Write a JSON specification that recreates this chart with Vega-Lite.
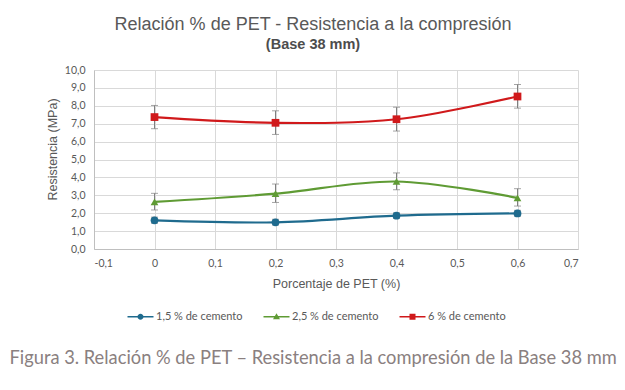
{
  "$schema": "https://vega.github.io/schema/vega-lite/v6.json",
  "autosize": "none",
  "width": 484,
  "height": 179,
  "padding": {"left": 94, "top": 70, "right": 47, "bottom": 141},
  "background": "white",
  "title": {
    "text": "Relación % de PET - Resistencia a la compresión",
    "subtitle": "(Base 38 mm)",
    "anchor": "middle",
    "frame": "group",
    "dx": -23,
    "offset": 14,
    "font": "Liberation Sans",
    "fontSize": 18,
    "fontWeight": "normal",
    "color": "#595959",
    "subtitleFont": "Liberation Sans",
    "subtitleFontSize": 14.5,
    "subtitleFontWeight": "bold",
    "subtitleColor": "#4d4d4d",
    "subtitlePadding": 4
  },
  "data": {
    "values": [
      {"pet": 0.0, "serie": "1,5 % de cemento", "r": 1.6, "lo": 1.44, "hi": 1.78},
      {"pet": 0.2, "serie": "1,5 % de cemento", "r": 1.49, "lo": 1.34, "hi": 1.66},
      {"pet": 0.4, "serie": "1,5 % de cemento", "r": 1.86, "lo": 1.71, "hi": 2.02},
      {"pet": 0.6, "serie": "1,5 % de cemento", "r": 1.99, "lo": 1.83, "hi": 2.16},
      {"pet": 0.0, "serie": "2,5 % de cemento", "r": 2.63, "lo": 2.18, "hi": 3.11},
      {"pet": 0.2, "serie": "2,5 % de cemento", "r": 3.09, "lo": 2.6, "hi": 3.63},
      {"pet": 0.4, "serie": "2,5 % de cemento", "r": 3.77, "lo": 3.31, "hi": 4.25},
      {"pet": 0.6, "serie": "2,5 % de cemento", "r": 2.86, "lo": 2.4, "hi": 3.37},
      {"pet": 0.0, "serie": "6 % de cemento", "r": 7.37, "lo": 6.72, "hi": 8.02},
      {"pet": 0.2, "serie": "6 % de cemento", "r": 7.05, "lo": 6.4, "hi": 7.72},
      {"pet": 0.4, "serie": "6 % de cemento", "r": 7.25, "lo": 6.59, "hi": 7.92},
      {"pet": 0.6, "serie": "6 % de cemento", "r": 8.52, "lo": 7.87, "hi": 9.19}
    ]
  },
  "layer": [
    {
      "mark": {"type": "line", "interpolate": "catmull-rom", "strokeWidth": 2.2},
      "encoding": {
        "x": {
          "field": "pet", "type": "quantitative",
          "scale": {"domain": [-0.1, 0.7], "nice": false, "zero": false},
          "axis": {
            "orient": "bottom",
            "values": [-0.1, 0, 0.1, 0.2, 0.3, 0.4, 0.5, 0.6, 0.7],
            "labelExpr": "replace(replace(format(datum.value, '.1~f'), '.', ','), '−', '-')",
            "grid": true, "gridColor": "#d9d9d9", "gridWidth": 1,
            "domainColor": "#bfbfbf", "ticks": false, "labelPadding": 9,
            "labelFont": "Lato", "labelFontSize": 10.5, "labelColor": "#595959",
            "title": "Porcentaje de PET (%)",
            "titleFont": "Liberation Sans", "titleFontSize": 12.5, "titleFontWeight": "normal",
            "titleColor": "#595959", "titleY": 38, "titleBaseline": "alphabetic"
          }
        },
        "y": {
          "field": "r", "type": "quantitative", "title": "Resistencia (MPa)",
          "scale": {"domain": [0, 10], "nice": false},
          "axis": {
            "orient": "left",
            "values": [0, 1, 2, 3, 4, 5, 6, 7, 8, 9, 10],
            "labelExpr": "replace(format(datum.value, '.1f'), '.', ',')",
            "grid": true, "gridColor": "#d9d9d9", "gridWidth": 1,
            "domainColor": "#bfbfbf", "ticks": false, "labelPadding": 9,
            "labelOverlap": false,
            "labelFont": "Lato", "labelFontSize": 10.5, "labelColor": "#595959",
            "titleFont": "Liberation Sans", "titleFontSize": 12.5, "titleFontWeight": "normal",
            "titleColor": "#595959", "titleX": -42, "titleY": 79, "titleBaseline": "middle", "titleAlign": "center"
          }
        },
        "color": {
          "field": "serie", "type": "nominal",
          "scale": {"domain": ["1,5 % de cemento", "2,5 % de cemento", "6 % de cemento"], "range": ["#1f6b8e", "#5f9b34", "#d0191b"]}
        }
      }
    },
    {
      "mark": {"type": "rule", "color": "#7f7f7f", "strokeWidth": 1},
      "encoding": {
        "x": {"field": "pet", "type": "quantitative", "axis": null},
        "y": {"field": "lo", "type": "quantitative", "axis": null},
        "y2": {"field": "hi"}
      }
    },
    {
      "mark": {"type": "tick", "orient": "horizontal", "color": "#7f7f7f", "size": 7, "thickness": 1},
      "encoding": {
        "x": {"field": "pet", "type": "quantitative", "axis": null},
        "y": {"field": "lo", "type": "quantitative", "axis": null}
      }
    },
    {
      "mark": {"type": "tick", "orient": "horizontal", "color": "#7f7f7f", "size": 7, "thickness": 1},
      "encoding": {
        "x": {"field": "pet", "type": "quantitative", "axis": null},
        "y": {"field": "hi", "type": "quantitative", "axis": null}
      }
    },
    {
      "transform": [{"filter": "datum.serie === '1,5 % de cemento'"}],
      "mark": {"type": "point", "shape": "circle", "filled": true, "size": 60, "opacity": 1},
      "encoding": {
        "x": {"field": "pet", "type": "quantitative", "axis": null},
        "y": {"field": "r", "type": "quantitative", "axis": null},
        "color": {"field": "serie", "type": "nominal"}
      }
    },
    {
      "transform": [{"filter": "datum.serie === '2,5 % de cemento'"}],
      "mark": {"type": "point", "shape": "triangle-up", "filled": true, "size": 60, "opacity": 1},
      "encoding": {
        "x": {"field": "pet", "type": "quantitative", "axis": null},
        "y": {"field": "r", "type": "quantitative", "axis": null},
        "color": {"field": "serie", "type": "nominal"}
      }
    },
    {
      "transform": [{"filter": "datum.serie === '6 % de cemento'"}],
      "mark": {"type": "point", "shape": "square", "filled": true, "size": 60, "opacity": 1},
      "encoding": {
        "x": {"field": "pet", "type": "quantitative", "axis": null},
        "y": {"field": "r", "type": "quantitative", "axis": null},
        "color": {"field": "serie", "type": "nominal"}
      }
    },
    {
      "mark": {"type": "point", "filled": true, "size": 55, "opacity": 0},
      "encoding": {
        "x": {
          "field": "pet", "type": "quantitative",
          "axis": {
            "orient": "bottom",
            "labels": false, "ticks": false, "domain": false, "grid": false,
            "title": "Figura 3. Relación % de PET – Resistencia a la compresión de la Base 38 mm",
            "titleFont": "Lato", "titleFontSize": 18.3, "titleFontWeight": "normal", "titleColor": "#8a8080",
            "titleX": -85, "titleY": 114, "titleAlign": "left", "titleBaseline": "alphabetic", "titleAnchor": "start"
          }
        },
        "y": {"field": "r", "type": "quantitative", "axis": null},
        "color": {
          "field": "serie", "type": "nominal",
          "legend": {
            "orient": "none", "legendX": 41, "legendY": 241, "direction": "horizontal",
            "title": null, "symbolSize": 100, "labelOffset": 10, "columnPadding": 20,
            "labelFont": "Lato", "labelFontSize": 11, "labelColor": "#595959",
            "symbolOpacity": 1, "symbolStrokeWidth": 0
          }
        },
        "shape": {
          "field": "serie", "type": "nominal",
          "scale": {
            "domain": ["1,5 % de cemento", "2,5 % de cemento", "6 % de cemento"],
            "range": [
              "M-2.6,-0.15H2.6V0.15H-2.6ZM-0.6,0A0.6,0.6,0,1,1,0.6,0A0.6,0.6,0,1,1,-0.6,0Z",
              "M-2.6,-0.15H2.6V0.15H-2.6ZM0,-0.7L0.7,0.5L-0.7,0.5Z",
              "M-2.6,-0.15H2.6V0.15H-2.6ZM-0.6,-0.6H0.6V0.6H-0.6Z"
            ]
          },
          "legend": {
            "orient": "none", "legendX": 41, "legendY": 241, "direction": "horizontal",
            "title": null, "symbolSize": 100, "labelOffset": 10, "columnPadding": 20,
            "labelFont": "Lato", "labelFontSize": 11, "labelColor": "#595959",
            "symbolOpacity": 1, "symbolStrokeWidth": 0
          }
        }
      }
    }
  ],
  "resolve": {"axis": {"x": "independent", "y": "independent"}},
  "config": {"view": {"stroke": null}}
}
